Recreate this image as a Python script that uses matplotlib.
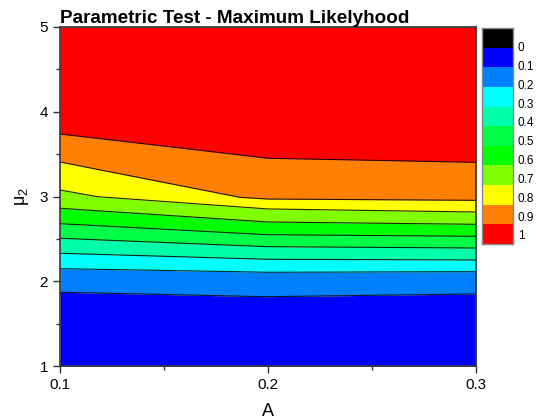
import numpy as np
import matplotlib
matplotlib.use("Agg")
import matplotlib.pyplot as plt
from matplotlib.ticker import MultipleLocator

plt.rcParams['font.family'] = ['Liberation Sans', 'DejaVu Sans']

# x positions where the contour boundaries are sampled
A = [0.1, 0.118, 0.1865, 0.2, 0.3]

# mu2 values of each level boundary (bottom to top)
b_01 = [1.870, 1.861, 1.824, 1.818, 1.850]
b_02 = [2.148, 2.141, 2.112, 2.106, 2.113]
b_03 = [2.330, 2.317, 2.269, 2.259, 2.251]
b_04 = [2.507, 2.489, 2.421, 2.408, 2.392]
b_05 = [2.679, 2.656, 2.566, 2.549, 2.530]
b_06 = [2.861, 2.832, 2.721, 2.699, 2.672]
b_07 = [3.077, 2.998, 2.877, 2.853, 2.817]
b_08 = [3.407, 3.320, 2.990, 2.970, 2.955]
b_09 = [3.737, 3.686, 3.490, 3.451, 3.403]

levels = ['0', '0.1', '0.2', '0.3', '0.4', '0.5', '0.6', '0.7', '0.8', '0.9', '1']
colors = ['#000000', '#0000ff', '#0080ff', '#00ffff', '#00ffaa', '#00ff46',
          '#00ff00', '#80ff00', '#ffff00', '#ff8000', '#ff0000']

fig = plt.figure(figsize=(5.36, 4.2), dpi=100)
ax = fig.add_axes([60/536, 54/420, 416/536, 339/420])

bounds = [[1.0]*len(A), b_01, b_02, b_03, b_04, b_05, b_06, b_07, b_08, b_09, [5.0]*len(A)]
for i in range(len(bounds)-1):
    ax.fill_between(A, bounds[i], bounds[i+1], color=colors[i+1], lw=0)
for b in bounds[1:-1]:
    ax.plot(A, b, color='black', lw=0.8, alpha=0.85)

ax.set_xlim(0.1, 0.3)
ax.set_ylim(1, 5)
ax.set_xticks([0.1, 0.2, 0.3])
ax.set_xticklabels(['0.1', '0.2', '0.3'])
ax.xaxis.set_minor_locator(MultipleLocator(0.05))
ax.yaxis.set_major_locator(MultipleLocator(1))
ax.yaxis.set_minor_locator(MultipleLocator(0.5))
ax.tick_params(which='major', direction='out', length=5, width=1, labelsize=11, colors='#333333', labelcolor='black')
ax.tick_params(which='minor', direction='out', length=3, width=1, colors='#333333')
for s in ax.spines.values():
    s.set_linewidth(1.2)
    s.set_color('#333333')
ax.set_xlabel('A', fontsize=13, labelpad=8)
ax.set_ylabel(r'$\mathregular{\mu_2}$', fontsize=13, labelpad=6)
ax.set_title('Parametric Test - Maximum Likelyhood', loc='left', fontsize=13.6,
             fontweight='bold', pad=2)

# legend bar
cax = fig.add_axes([482/536, 176/420, 31/536, 216/420])
for i, c in enumerate(colors):
    cax.axhspan(i, i+1, color=c, lw=0)
cax.set_ylim(11, 0)
cax.set_xlim(0, 1)
cax.set_xticks([])
cax.yaxis.tick_right()
cax.set_yticks([0.95 + 0.959*i for i in range(len(levels))])
cax.set_yticklabels(levels)
cax.tick_params(axis='y', length=0, pad=3.5, labelsize=8.5)
for s in cax.spines.values():
    s.set_color('#888888')
    s.set_linewidth(1)

fig.savefig('out.png', dpi=100)
